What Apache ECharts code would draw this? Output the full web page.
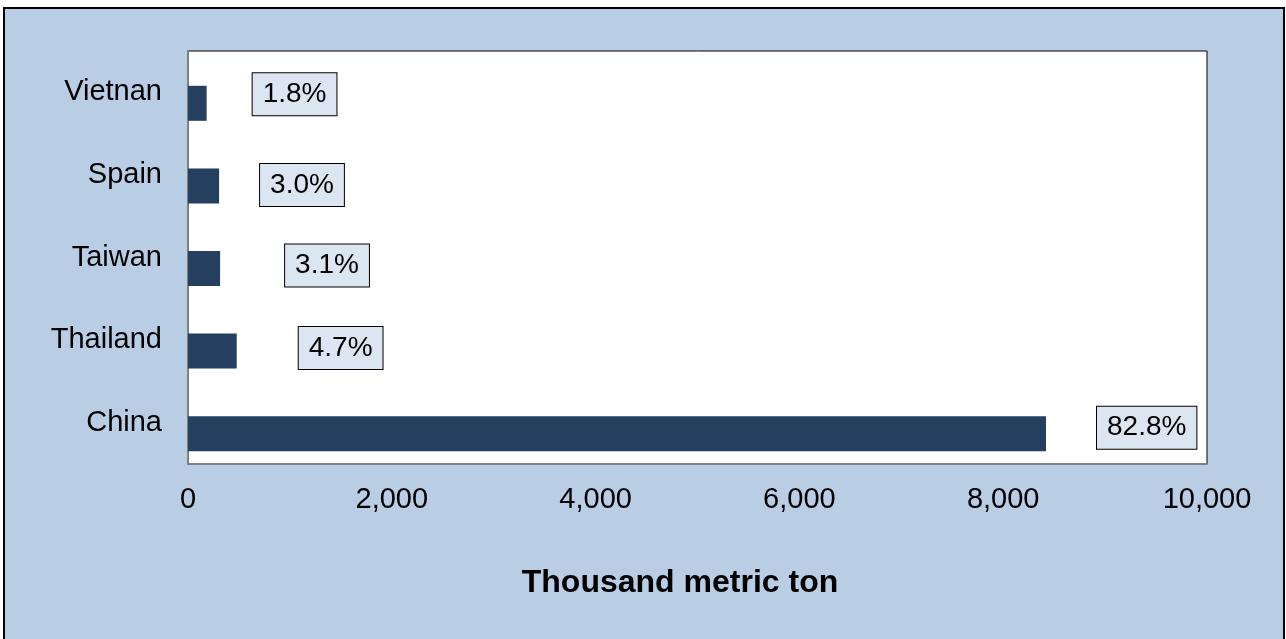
<!DOCTYPE html>
<html>
<head>
<meta charset="utf-8">
<title>Production by country</title>
<script src="https://cdn.jsdelivr.net/npm/echarts@6/dist/echarts.min.js"></script>
<style>
  html, body { margin: 0; padding: 0; background: #ffffff; overflow: hidden; }
  #chart { width: 1286px; height: 639px; }
</style>
</head>
<body>
<div id="chart"></div>
<script>
// Countries, bottom to top
const countries = ['China', 'Thailand', 'Taiwan', 'Spain', 'Vietnan'];
// Output in thousand metric tons
const tonnage = [8420, 478, 315, 305, 183];
// Share of the total, as printed beside each bar
const shares = ['82.8%', '4.7%', '3.1%', '3.0%', '1.8%'];
// X axis scale
const xMin = 0;
const xMax = 10000;
const xStep = 2000;

// Hand placement of each share box relative to its bar end [dx, dy]
const labelNudges = [[51, -6], [62, -3], [65, -3], [41, -1], [46, -9]];

const FONT = '"Liberation Sans", Arial, sans-serif';

const chart = echarts.init(document.getElementById('chart'), null, { renderer: 'canvas' });

chart.setOption({
  backgroundColor: '#ffffff',
  animation: false,
  textStyle: { fontFamily: FONT },
  graphic: [{
    type: 'rect',
    z: -10,
    silent: true,
    shape: { x: 4, y: 8, width: 1280, height: 640 },
    style: { fill: '#b9cde5', stroke: '#000000', lineWidth: 2 }
  }],
  grid: {
    show: true,
    left: 188,
    top: 51,
    right: 79,
    bottom: 175,
    backgroundColor: '#ffffff',
    borderColor: '#000000',
    borderWidth: 1,
    containLabel: false
  },
  xAxis: {
    type: 'value',
    min: xMin,
    max: xMax,
    interval: xStep,
    name: 'Thousand metric ton',
    nameLocation: 'middle',
    nameGap: 103,
    nameTextStyle: {
      fontFamily: FONT, fontSize: 32, fontWeight: 'bold', color: '#000000',
      padding: [0, 35, 0, 0]
    },
    axisLine: { show: true, lineStyle: { color: '#808080', width: 2 } },
    axisTick: { show: false },
    splitLine: { show: false },
    axisLabel: {
      fontFamily: FONT, fontSize: 29, color: '#000000', margin: 21,
      formatter: v => v.toLocaleString('en-US')
    }
  },
  yAxis: {
    type: 'category',
    data: countries,
    axisLine: { show: true, lineStyle: { color: '#808080', width: 2 } },
    axisTick: { show: false },
    splitLine: { show: false },
    axisLabel: {
      fontFamily: FONT, fontSize: 29, color: '#000000', margin: 26,
      padding: [4, 0, 0, 0]
    }
  },
  series: [
    {
      // empty companion series, keeps the bars in the lower part of each row
      name: 'spacer',
      type: 'bar',
      barWidth: 22,
      barGap: 0,
      data: countries.map(() => '-'),
      silent: true,
      itemStyle: { color: 'rgba(0,0,0,0)' }
    },
    {
      name: 'Production',
      type: 'bar',
      barWidth: 35,
      barGap: 0,
      itemStyle: { color: '#243f60' },
      data: tonnage.map((v, i) => ({
        value: v,
        label: { offset: labelNudges[i] }
      })),
      label: {
        show: true,
        position: 'right',
        distance: 0,
        formatter: p => shares[p.dataIndex],
        fontFamily: FONT,
        fontSize: 28,
        lineHeight: 28,
        color: '#000000',
        backgroundColor: '#dce6f2',
        borderColor: '#000000',
        borderWidth: 1,
        padding: [7, 10, 7, 10]
      }
    }
  ]
});
</script>
</body>
</html>
